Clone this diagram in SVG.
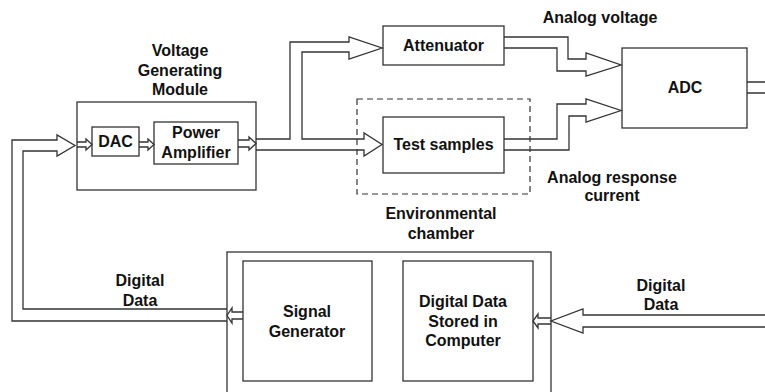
<svg xmlns="http://www.w3.org/2000/svg" width="765" height="392" viewBox="0 0 765 392">
<style>
.box{fill:#fff;stroke:#333;stroke-width:1.3}
.dash{fill:none;stroke:#333;stroke-width:1.2;stroke-dasharray:6,4}
.arr{fill:none;stroke:#333;stroke-width:1.3;stroke-linejoin:miter}
.ln{fill:none;stroke:#333;stroke-width:1.3}
text{font-family:"Liberation Sans",Arial,sans-serif;font-weight:bold;font-size:16px;fill:#111;text-anchor:middle}
</style>
<rect width="765" height="392" fill="#fff"/>
<g id="vgm">
<rect class="box" x="77" y="102" width="179" height="88"/>
<text x="180" y="56">Voltage</text>
<text x="180" y="76">Generating</text>
<text x="180" y="95">Module</text>
</g>
<g id="dac">
<rect class="box" x="92" y="127" width="47" height="29"/>
<text x="115.5" y="147">DAC</text>
</g>
<g id="pa">
<rect class="box" x="154" y="122" width="84" height="42"/>
<text x="196" y="138">Power</text>
<text x="196" y="158">Amplifier</text>
</g>
<g id="attenuator">
<rect class="box" x="383" y="26" width="121" height="39"/>
<text x="443.5" y="50.5">Attenuator</text>
</g>
<g id="chamber">
<rect class="dash" x="357" y="99" width="173" height="95"/>
<text x="441" y="219">Environmental</text>
<text x="441" y="239">chamber</text>
</g>
<g id="samples">
<rect class="box" x="383" y="117" width="121" height="56"/>
<text x="443.5" y="150">Test samples</text>
</g>
<g id="adc">
<rect class="box" x="622" y="48" width="125" height="80"/>
<text x="685" y="93">ADC</text>
</g>
<g id="computer">
<rect class="box" x="227" y="252" width="324" height="150"/>
</g>
<g id="siggen">
<rect class="box" x="243" y="261" width="129" height="120"/>
<text x="307" y="316.5">Signal</text>
<text x="307" y="336.5">Generator</text>
</g>
<g id="datastore">
<rect class="box" x="403" y="261" width="130" height="120"/>
<text x="463" y="307">Digital Data</text>
<text x="463" y="326.5">Stored in</text>
<text x="463" y="346">Computer</text>
</g>
<g id="connectors">
<path class="arr" d="M227,321 H12 V140 H57 V135 L75,145.5 L57,156 V151 H23 V309 H227"/>
<path class="arr" d="M77,142 H86 V139 L92,144.5 L86,150 V147 H77"/>
<path class="arr" d="M139,142 H148 V139 L154,144.5 L148,150 V147 H139"/>
<path class="arr" d="M238,140 H249 V137 L256,143.5 L249,150 V147 H238"/>
<path class="arr" d="M256,139 H290 V42 H349 V37 L382,48 L349,59 V52 H302 V139 H364 V133 L382,144.5 L364,156 V150 H256"/>
<path class="arr" d="M504,37 H568 V59 H586 V53 L621,65 L586,76 V71 H557 V48 H504"/>
<path class="arr" d="M504,139 H557 V104 H586 V99 L621,110.5 L586,122 V116 H569 V150 H504"/>
<path class="ln" d="M747,82 H765 M747,93 H765"/>
<path class="arr" d="M765,315 H583 V309 L551,321 L583,333 V327 H765"/>
<path class="arr" d="M551,318 H538 V314 L533,321 L538,328 V324 H551"/>
<path class="arr" d="M243,312 H232 V308 L227,315.5 L232,323 V319 H243"/>
</g>
<g id="labels">
<text x="600" y="22.5">Analog voltage</text>
<text x="612" y="182.5">Analog response</text>
<text x="612" y="200.5">current</text>
<text x="140" y="286">Digital</text>
<text x="140" y="306">Data</text>
<text x="661" y="290.5">Digital</text>
<text x="661" y="309.5">Data</text>
</g>
</svg>
